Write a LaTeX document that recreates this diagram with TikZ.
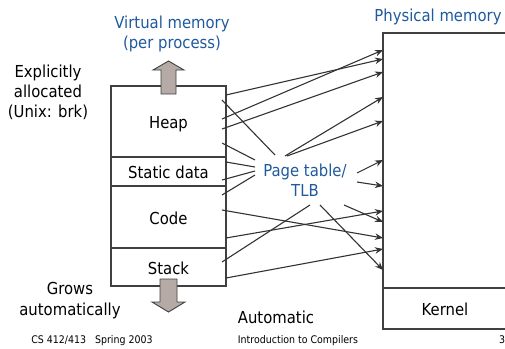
\documentclass[tikz,border=0pt]{standalone}
\usepackage{fontspec}
\setmainfont{DejaVu Sans Condensed}
\usetikzlibrary{arrows.meta}
\definecolor{tblue}{HTML}{1F5A9E}
\definecolor{linec}{HTML}{333333}
\definecolor{boxc}{HTML}{404040}
\definecolor{bfill}{HTML}{B5AAA5}
\begin{document}
\begin{tikzpicture}[x=1pt,y=-1pt,
  every node/.style={inner sep=0pt, outer sep=0pt},
  lbl/.style={font=\fontsize{16.5}{20}\selectfont, text=black},
  bluel/.style={font=\fontsize{16.5}{20}\selectfont, text=tblue},
  foot/.style={font=\fontsize{10.5}{12}\selectfont, text=black, anchor=base},
  membox/.style={draw=boxc, line width=1.3pt, minimum width=115pt,
     font=\fontsize{16.5}{20}\selectfont, text height=14pt, text depth=0pt},
  physbox/.style={draw=boxc, line width=1.3pt, minimum width=124pt,
     font=\fontsize{16.5}{20}\selectfont, text height=14pt, text depth=0pt},
  conn/.style={draw=linec, line width=1.1pt},
  arr/.style={conn, -{Stealth[length=8pt,width=6.5pt]}},
  blockarrow/.style={draw=boxc, line width=0.9pt, fill=bfill, line join=miter}]
\useasboundingbox (0,0) rectangle (505,348);
\begin{scope}
\clip (0,0) rectangle (505,348);
% virtual memory boxes
\node[membox, minimum height=71pt] (heap) at (168.5,121.5) {Heap};
\node[membox, minimum height=29pt] (static) at (168.5,171.5) {Static data};
\node[membox, minimum height=62pt] (code) at (168.5,217) {Code};
\node[membox, minimum height=38pt] (stack) at (168.5,267) {Stack};
% physical memory
\node[physbox, minimum height=255pt] (phys) at (445,160.5) {};
\node[physbox, minimum height=41pt] (kernel) at (445,308.5) {Kernel};
\end{scope}
% block arrows
\draw[blockarrow] (161,94) -- (161,70) -- (153,70) -- (168.5,61) -- (184,70) -- (176,70) -- (176,94) -- cycle;
\draw[blockarrow] (160,279) -- (160,302) -- (152,302) -- (168.5,312) -- (185,302) -- (177,302) -- (177,279) -- cycle;
% labels
\node[bluel, anchor=base] (vm1) at (172,28) {Virtual memory};
\node[bluel, anchor=base] (vm2) at (172,48) {(per process)};
\node[bluel, anchor=base] (pm) at (438,21) {Physical memory};
\node[lbl, anchor=base] (ex1) at (48,77) {Explicitly};
\node[lbl, anchor=base] (ex2) at (48,97) {allocated};
\node[lbl, anchor=base] (ex3) at (48,117) {(Unix: brk)};
\node[lbl, anchor=base] (gr1) at (70,294) {Grows};
\node[lbl, anchor=base] (gr2) at (70,315) {automatically};
\node[lbl, anchor=base] (auto) at (276,323) {Automatic};
\node[bluel, align=center, font=\fontsize{16.5}{20}\selectfont] (pt) at (305,180) {Page table/\\TLB};
\node[foot] (f1) at (92,343) {CS 412/413\hspace{9pt}Spring 2003};
\node[foot] (f2) at (298,343) {Introduction to Compilers};
\node[foot] (f3) at (502,343) {3};
% heap connectors
\draw[arr] ([shift={(0pt,-9pt)}]heap.north east) -- ([yshift=-26pt]phys.north west);
\draw[conn] ([shift={(-4pt,-14pt)}]heap.north east) -- ([shift={(-30pt,25pt)}]pt.center);
\draw[arr] ([shift={(-4pt,-33pt)}]heap.north east) -- ([yshift=-17pt]phys.north west);
\draw[arr] ([shift={(-4pt,-43pt)}]heap.north east) -- ([yshift=-39pt]phys.north west);
\draw[conn] ([shift={(-4pt,-57pt)}]heap.north east) -- ([shift={(-50pt,20pt)}]pt.center);
% static connectors
\draw[conn] ([shift={(0pt,-5pt)}]static.north east) -- ([shift={(-50pt,13pt)}]pt.center);
\draw[conn] ([shift={(-4pt,-23pt)}]static.north east) -- ([shift={(-50pt,9pt)}]pt.center);
% code connectors
\draw[conn] ([shift={(-4pt,-9pt)}]code.north east) -- ([shift={(-50pt,5pt)}]pt.center);
\draw[arr] ([shift={(-4pt,-24pt)}]code.north east) -- ([yshift=-205pt]phys.north west);
\draw[arr] ([shift={(0pt,-52pt)}]code.north east) -- ([yshift=-178pt]phys.north west);
% stack connectors
\draw[conn] ([shift={(-4pt,-14pt)}]stack.north east) -- ([shift={(5pt,-25pt)}]pt.center);
\draw[arr] ([shift={(0pt,-30pt)}]stack.north east) -- ([yshift=-216pt]phys.north west);
% page table connectors
\draw[arr] ([shift={(-20pt,24pt)}]pt.center) -- ([yshift=-64pt]phys.north west);
\draw[arr] ([shift={(-18pt,24pt)}]pt.center) -- ([yshift=-88pt]phys.north west);
\draw[arr] ([shift={(52pt,7pt)}]pt.center) -- ([yshift=-127pt]phys.north west);
\draw[arr] ([shift={(52pt,-2pt)}]pt.center) -- ([yshift=-153pt]phys.north west);
\draw[arr] ([shift={(39pt,-25pt)}]pt.center) -- ([yshift=-189pt]phys.north west);
\draw[arr] ([shift={(15pt,-25pt)}]pt.center) -- ([yshift=-237pt]phys.north west);
\end{tikzpicture}
\end{document}
